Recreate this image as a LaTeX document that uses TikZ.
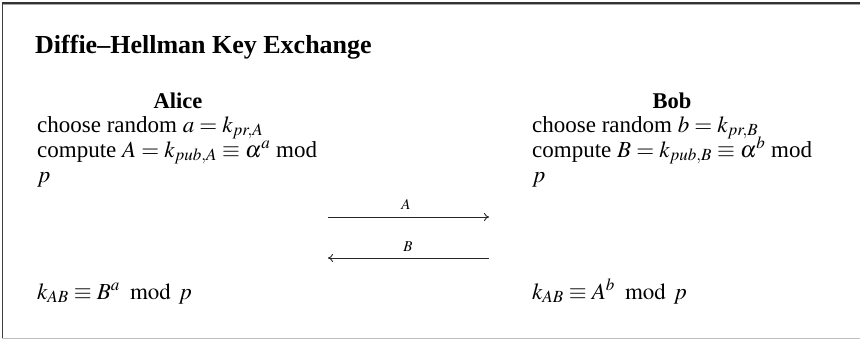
\documentclass[tikz,border=0pt]{standalone}
\usepackage{amsmath}
\usepackage{mathptmx}
\usepackage{fontspec}
\setmainfont{Liberation Serif}
\usetikzlibrary{arrows.meta}
\newcommand{\mymod}{\mkern8mu\mathrm{mod}\mkern6mu}
\newcommand{\tightlines}{\lineskiplimit=-30pt\relax\lineskip=0pt\relax}
\begin{document}
\begin{tikzpicture}[x=1pt,y=-1pt,
  every node/.style={inner sep=0pt},
  titletext/.style={font=\fontsize{26}{31}\selectfont\bfseries, anchor=base west},
  headtext/.style={font=\fontsize{22.5}{26}\selectfont\bfseries, anchor=base},
  bodytext/.style={font=\fontsize{23}{25}\selectfont\tightlines, anchor=base west, align=left},
  lbltext/.style={font=\fontsize{15}{18}\selectfont, anchor=base},
  msg/.style={draw=black!85, line width=0.9pt, -{To[length=5pt,width=8pt]}}]
\useasboundingbox (0,0) rectangle (860,340);
% frame
\draw[draw=black!75, line width=1.6pt] (2.5,2) -- (2.5,339);
\draw[draw=black!80, line width=1.4pt] (2,3) -- (860,3);
\draw[draw=black!35, line width=0.8pt] (3,4.6) -- (860,4.6);
\draw[draw=black!25, line width=1.4pt] (2,338.5) -- (860,338.5);
% title
\node[titletext] (title) at (35,53) {Diffie–Hellman Key Exchange};
% Alice (multi-line node: base anchor is the last line's baseline)
\node[headtext] (alice) at (178,108) {Alice};
\node[bodytext] (atext) at (37,182) {choose random $a = k_{pr,A}$\\
  compute $A = k_{pub,A} \equiv \alpha^a$ mod\\
  $p$};
\node[bodytext] (akey) at (37,299) {$k_{AB} \equiv B^a \mymod p$};
% Bob
\node[headtext] (bob) at (672,108) {Bob};
\node[bodytext] (btext) at (532,182) {choose random $b = k_{pr,B}$\\
  compute $B = k_{pub,B} \equiv \alpha^b$ mod\\
  $p$};
\node[bodytext] (bkey) at (532,299) {$k_{AB} \equiv A^b \mymod p$};
% messages
\coordinate (sA) at (328,217);
\coordinate (eA) at (489,217);
\coordinate (sB) at (489,258);
\coordinate (eB) at (328,258);
\draw[msg] (sA) -- (eA);
\draw[msg] (sB) -- (eB);
\node[lbltext] (lA) at (406,209.5) {$A$};
\node[lbltext] (lB) at (408,251.5) {$B$};
\end{tikzpicture}
\end{document}
